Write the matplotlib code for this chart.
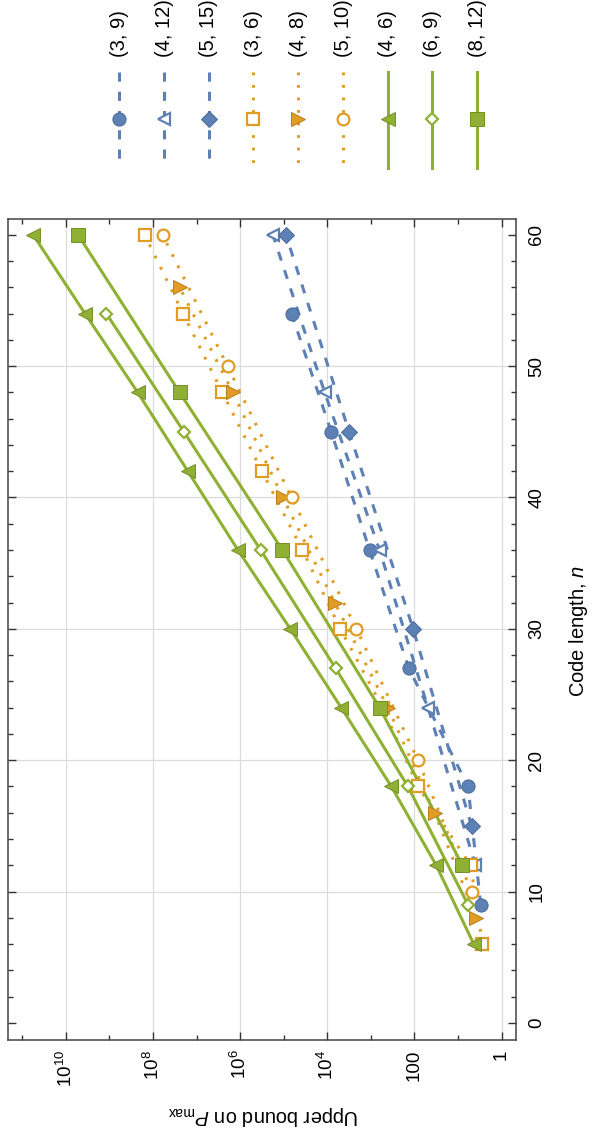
import matplotlib
matplotlib.use('Agg')
import matplotlib.pyplot as plt
from matplotlib.ticker import FixedLocator, FixedFormatter, MultipleLocator
import numpy as np

plt.rcParams['font.family'] = ['Liberation Sans', 'DejaVu Sans']
plt.rcParams['mathtext.fontset'] = 'custom'
plt.rcParams['mathtext.rm'] = 'Liberation Sans'
plt.rcParams['mathtext.it'] = 'Liberation Sans:italic'
plt.rcParams['mathtext.bf'] = 'Liberation Sans:bold'

# ---------------- data (code length n, log10 of upper bound on P_max) ----------------
labels = ['(3, 9)', '(4, 12)', '(5, 15)', '(3, 6)', '(4, 8)', '(5, 10)', '(4, 6)', '(6, 9)', '(8, 12)']

n_3_9 = [9, 18, 27, 36, 45, 54]
log_3_9 = [0.48, 0.77, 2.13, 3.03, 3.91, 4.82]
n_4_12 = [12, 24, 36, 48, 60]
log_4_12 = [0.60, 1.69, 2.80, 4.06, 5.25]
n_5_15 = [15, 30, 45, 60]
log_5_15 = [0.69, 2.03, 3.50, 4.95]

n_3_6 = [6, 12, 18, 24, 30, 36, 42, 48, 54, 60]
log_3_6 = [0.44, 0.71, 1.92, 2.73, 3.70, 4.57, 5.50, 6.41, 7.31, 8.19]
n_4_8 = [8, 16, 24, 32, 40, 48, 56]
log_4_8 = [0.58, 1.54, 2.61, 3.83, 5.02, 6.17, 7.39]
n_5_10 = [10, 20, 30, 40, 50, 60]
log_5_10 = [0.69, 1.92, 3.33, 4.82, 6.29, 7.78]

n_4_6 = [6, 12, 18, 24, 30, 36, 42, 48, 54, 60]
log_4_6 = [0.64, 1.50, 2.53, 3.68, 4.85, 6.05, 7.20, 8.35, 9.56, 10.75]
n_6_9 = [9, 18, 27, 36, 45, 54]
log_6_9 = [0.77, 2.15, 3.81, 5.53, 7.29, 9.07]
n_8_12 = [12, 24, 36, 48, 60]
log_8_12 = [0.90, 2.80, 5.03, 7.39, 9.72]

x_major = [1e0, 1e2, 1e4, 1e6, 1e8, 1e10]
x_major_labels = ['1', '100', r'$10^{4}$', r'$10^{6}$', r'$10^{8}$', r'$10^{10}$']
x_minor = [1e1, 1e3, 1e5, 1e7, 1e9, 1e11]
y_major = [0, 10, 20, 30, 40, 50, 60]

# ---------------- styles ----------------
BLUE = '#5E81B5'
ORANGE = '#E19C24'
GREEN = '#8FB032'
DARK = {BLUE: '#4A6A99', ORANGE: '#B87F1A', GREEN: '#748F27'}

blue_ls = dict(color=BLUE, lw=2.2, linestyle=(0, (3.0, 3.3)), dash_capstyle='butt')
orange_ls = dict(color=ORANGE, lw=2.2, linestyle=(0, (0.9, 3.2)), dash_capstyle='butt')
green_ls = dict(color=GREEN, lw=2.2, linestyle='-')

series = [
    (n_3_9, log_3_9, blue_ls, 'o', True, 9.5),
    (n_4_12, log_4_12, blue_ls, '<', False, 8.5),
    (n_5_15, log_5_15, blue_ls, 'D', True, 8.5),
    (n_3_6, log_3_6, orange_ls, 's', False, 8.0),
    (n_4_8, log_4_8, orange_ls, '>', True, 9.5),
    (n_5_10, log_5_10, orange_ls, 'o', False, 8.5),
    (n_4_6, log_4_6, green_ls, '<', True, 9.5),
    (n_6_9, log_6_9, green_ls, 'D', False, 6.5),
    (n_8_12, log_8_12, green_ls, 's', True, 9.5),
]


def marker_kw(color, filled, ms):
    if filled:
        return dict(marker=None, ms=ms, mfc=color, mec=DARK[color], mew=0.7)
    return dict(marker=None, ms=ms, mfc='white', mec=color, mew=1.6)


fig = plt.figure(figsize=(5.92, 11.38), dpi=100)
ax = fig.add_axes([8.3 / 592, 1 - 1040 / 1138, (516 - 8.3) / 592, (1040 - 219) / 1138])

# lines first
for n, lg, ls, mk, filled, ms in series:
    P = 10 ** np.array(lg)
    ax.plot(P, n, zorder=2, **ls)
# markers on top
for n, lg, ls, mk, filled, ms in series:
    P = 10 ** np.array(lg)
    kw = marker_kw(ls['color'], filled, ms)
    kw['marker'] = mk
    ax.plot(P, n, linestyle='none', zorder=3, clip_on=False, **kw)

ax.set_xscale('log')
ax.set_xlim(10 ** 11.32, 10 ** -0.33)
ax.set_ylim(-1.3, 61.2)

ax.xaxis.set_major_locator(FixedLocator(x_major))
ax.xaxis.set_major_formatter(FixedFormatter(x_major_labels))
ax.xaxis.set_minor_locator(FixedLocator(x_minor))
ax.xaxis.set_minor_formatter(FixedFormatter([''] * len(x_minor)))
ax.yaxis.set_major_locator(FixedLocator(y_major))
ax.yaxis.set_minor_locator(MultipleLocator(2))

ax.tick_params(which='both', direction='in', top=True, bottom=True, left=True, right=True,
               labelleft=False, labelright=True, labelbottom=True, labeltop=False,
               color='#333333', width=1.0)
ax.tick_params(which='major', length=6.0, labelsize=13.5)
ax.tick_params(which='minor', length=3.8)
ax.tick_params(axis='x', which='major', pad=7, labelrotation=90)
ax.tick_params(axis='y', which='major', pad=9, labelrotation=90)
for lbl in ax.get_yticklabels():
    lbl.set_va('center')
    lbl.set_ha('left')

for sp in ax.spines.values():
    sp.set_color('#444444')
    sp.set_linewidth(1.1)

# grid lines
for gx in x_major:
    ax.axvline(gx, color='#dcdcdc', lw=0.9, zorder=0)
for gy in [10, 20, 30, 40, 50]:
    ax.axhline(gy, color='#dcdcdc', lw=0.9, zorder=0)

fig.text(579 / 592, 1 - 631 / 1138, r'Code length, $n$', rotation=90,
         ha='center', va='center', fontsize=14.5)
fig.text(263 / 592, 1 - 1116 / 1138, r'Upper bound on $P_{\mathrm{max}}$', rotation=180,
         ha='center', va='center', fontsize=14.5)

# ---------------- legend (rotated, at top) ----------------
leg = fig.add_axes([0, 1 - 180 / 1138, 1, 180 / 1138])
leg.set_xlim(0, 592)
leg.set_ylim(180, 0)
leg.axis('off')
leg_x = [119.3, 164, 209, 253.3, 298.3, 343.3, 387.7, 432.3, 477.3]
for xi, lab, (n, lg, ls, mk, filled, ms) in zip(leg_x, labels, series):
    leg.plot([xi, xi], [72, 168], **ls)
    kw = marker_kw(ls['color'], filled, ms)
    kw['marker'] = mk
    leg.plot([xi], [119], linestyle='none', **kw)
    leg.text(xi, 57, lab, rotation=90, ha='center', va='bottom', fontsize=14.5)

fig.savefig('out.png', dpi=100)
